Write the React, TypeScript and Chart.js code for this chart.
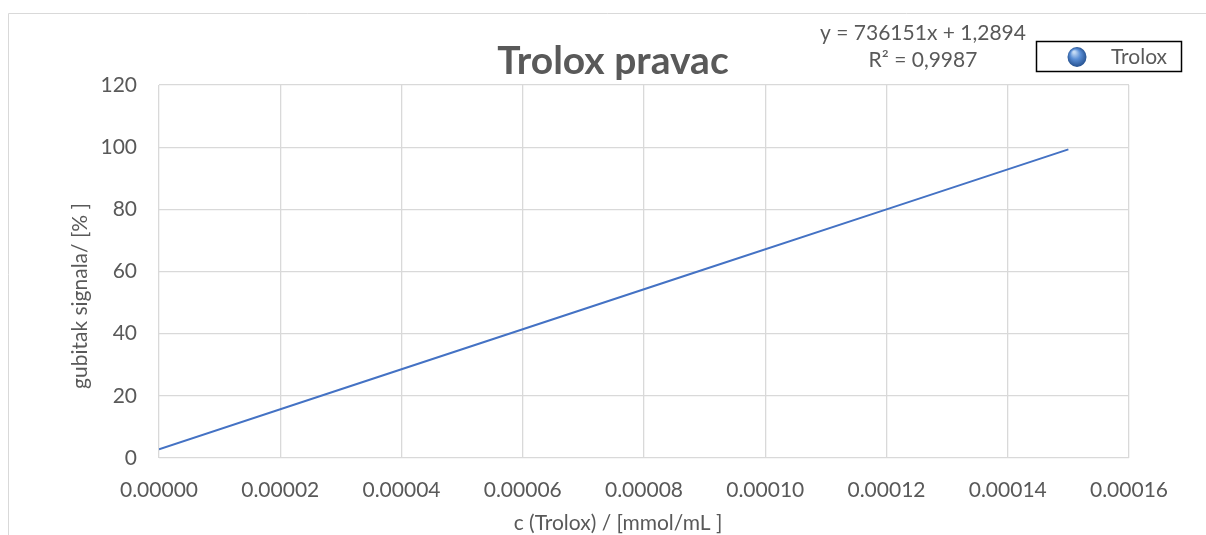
import React, { useEffect, useRef } from "react";
import { Chart, registerables } from "chart.js";

Chart.register(...registerables);

// ---- data ----
const xValues = [0, 0.00003, 0.00006, 0.00009, 0.00012, 0.00015];
const yValues = [2.8, 22.1, 41.4, 60.7, 80.0, 99.3];
const xMin = 0;
const xMax = 0.00016;
const xStep = 0.00002;
const yMin = 0;
const yMax = 120;
const yStep = 20;
const chartTitle = "Trolox pravac";
const trendLabels = ["y = 736151x + 1,2894", "R² = 0,9987"];
const seriesName = "Trolox";
const xAxisTitle = "c (Trolox) / [mmol/mL ]";
const yAxisTitle = "gubitak signala/ [% ]";

const FONT = "Lato, 'Open Sans', sans-serif";
const TEXT = "#595959";
const GRID = "#d9d9d9";
const LINE = "#4472c4";

const decorPlugin = {
  id: "decor",
  beforeDraw(chart: any) {
    const ctx = chart.ctx;
    ctx.save();
    ctx.strokeStyle = GRID;
    ctx.lineWidth = 1;
    ctx.beginPath();
    ctx.moveTo(8.5, 535);
    ctx.lineTo(8.5, 13.5);
    ctx.lineTo(1206, 13.5);
    ctx.stroke();
    ctx.restore();
  },
  afterDraw(chart: any) {
    const ctx = chart.ctx;
    ctx.save();
    // title
    ctx.fillStyle = TEXT;
    ctx.font = `bold 39px ${FONT}`;
    ctx.textAlign = "center";
    ctx.textBaseline = "alphabetic";
    ctx.fillText(chartTitle, 613, 74);
    // trendline labels
    ctx.font = `21px ${FONT}`;
    ctx.textBaseline = "middle";
    ctx.fillText(trendLabels[0], 923, 33);
    ctx.fillText(trendLabels[1], 923, 60);
    // legend
    ctx.strokeStyle = "#000000";
    ctx.lineWidth = 1.5;
    ctx.strokeRect(1036.5, 41.5, 145, 30);
    const cx = 1077, cy = 57, r = 10;
    const g = ctx.createRadialGradient(cx - 3, cy - 5, 1, cx, cy, r);
    g.addColorStop(0, "#c4daf4");
    g.addColorStop(0.45, "#5b8fd6");
    g.addColorStop(1, "#24508f");
    ctx.fillStyle = g;
    ctx.beginPath();
    ctx.ellipse(cx, cy, r - 0.5, r, 0, 0, Math.PI * 2);
    ctx.fill();
    ctx.fillStyle = TEXT;
    ctx.textAlign = "left";
    ctx.font = `21px ${FONT}`;
    ctx.fillText(seriesName, 1111, 57);
    // axis titles
    ctx.textAlign = "center";
    ctx.fillText(xAxisTitle, 618, 523);
    ctx.translate(80, 296);
    ctx.rotate(-Math.PI / 2);
    ctx.fillText(yAxisTitle, 0, 0);
    ctx.restore();
  },
};

export default function App() {
  const ref = useRef<HTMLCanvasElement | null>(null);
  useEffect(() => {
    if (!ref.current) return;
    const chart = new Chart(ref.current, {
      type: "scatter",
      data: {
        datasets: [
          {
            label: seriesName,
            data: xValues.map((x, i) => ({ x, y: yValues[i] })),
            showLine: true,
            borderColor: LINE,
            backgroundColor: LINE,
            borderWidth: 2,
            pointRadius: 0,
            tension: 0,
          },
        ],
      },
      options: {
        animation: false,
        responsive: false,
        maintainAspectRatio: false,
        layout: { padding: { left: 0, top: 85, right: 77, bottom: 0 } },
        plugins: {
          legend: { display: false },
          title: { display: false },
          tooltip: { enabled: false },
        },
        scales: {
          x: {
            type: "linear",
            min: xMin,
            max: xMax,
            afterFit: (s: any) => {
              s.height = 77;
            },
            afterBuildTicks: (s: any) => {
              const t = [];
              for (let v = xMin; v <= xMax + xStep / 2; v += xStep) t.push({ value: v });
              s.ticks = t;
            },
            ticks: {
              autoSkip: false,
              maxRotation: 0,
              color: TEXT,
              font: { family: FONT, size: 21 },
              padding: 20,
              callback: (v: any) => Number(v).toFixed(5),
            },
            grid: { color: GRID, lineWidth: 1.3, drawTicks: false },
            border: { display: false },
          },
          y: {
            type: "linear",
            min: yMin,
            max: yMax,
            afterFit: (s: any) => {
              s.width = 159;
            },
            ticks: {
              stepSize: yStep,
              color: TEXT,
              font: { family: FONT, size: 21 },
              padding: 22,
            },
            grid: { color: GRID, lineWidth: 1.3, drawTicks: false },
            border: { display: false },
          },
        },
      },
      plugins: [decorPlugin],
    });
    return () => chart.destroy();
  }, []);
  return (
    <div style={{ position: "fixed", left: 0, top: 0, width: 1206, height: 535, background: "#fff" }}>
      <canvas ref={ref} width={1206} height={535} style={{ display: "block" }} />
    </div>
  );
}
